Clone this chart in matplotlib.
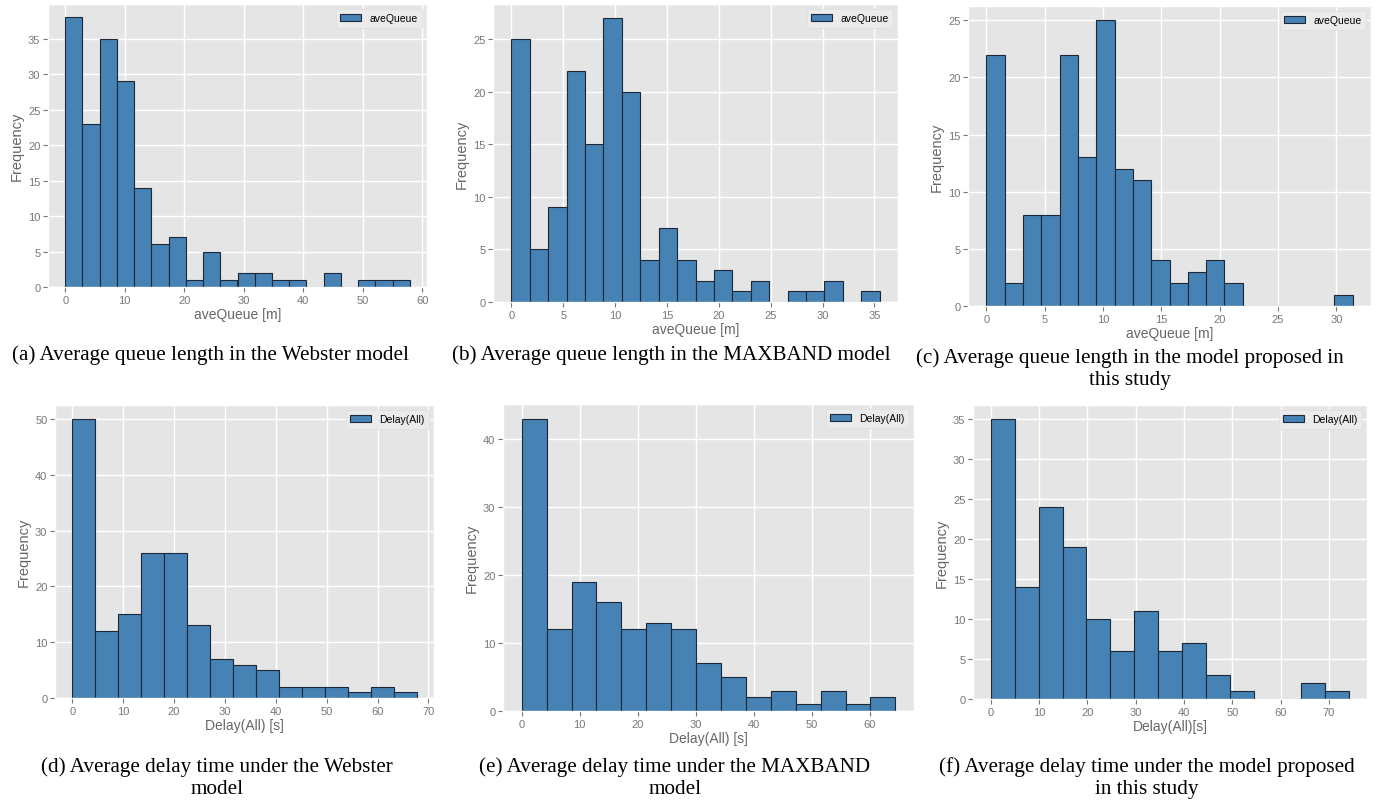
import numpy as np
import matplotlib
matplotlib.use('Agg')
import matplotlib.pyplot as plt

plt.style.use('ggplot')
plt.rcParams['font.family'] = ['Liberation Sans', 'DejaVu Sans']

# histogram counts, with the data range of each panel
queue_webster = [38, 23, 35, 29, 14, 6, 7, 1, 5, 1, 2, 2, 1, 1, 0, 2, 0, 1, 1, 1]
queue_maxband = [25, 5, 9, 22, 15, 27, 20, 4, 7, 4, 2, 3, 1, 2, 0, 1, 1, 2, 0, 1]
queue_proposed = [22, 2, 8, 8, 22, 13, 25, 12, 11, 4, 2, 3, 4, 2, 0, 0, 0, 0, 0, 1]
delay_webster = [50, 12, 15, 26, 26, 13, 7, 6, 5, 2, 2, 2, 1, 2, 1]
delay_maxband = [43, 12, 19, 16, 12, 13, 12, 7, 5, 2, 3, 1, 3, 1, 2]
delay_proposed = [35, 14, 24, 19, 10, 6, 11, 6, 7, 3, 1, 0, 0, 2, 1]

ranges = [(0, 57.9), (0, 35.5), (0, 31.4), (0, 67.7), (0, 64.4), (0, 74.2)]
xlabels = ['aveQueue [m]', 'aveQueue [m]', 'aveQueue [m]',
           'Delay(All) [s]', 'Delay(All) [s]', 'Delay(All)[s]']
legends = ['aveQueue'] * 3 + ['Delay(All)'] * 3
captions = ['(a) Average queue length in the Webster model',
            '(b) Average queue length in the MAXBAND model',
            '(c) Average queue length in the model proposed in\nthis study',
            '(d) Average delay time under the Webster\nmodel',
            '(e) Average delay time under the MAXBAND\nmodel',
            '(f) Average delay time under the model proposed\nin this study']

W, H = 1380, 804
# axes boxes in pixels: left, right, top, bottom
boxes = [(48, 427, 5, 288), (493, 898, 5, 303), (968, 1371, 7, 307),
         (55, 434, 406, 699), (503, 914, 405, 712), (973, 1367, 406, 700)]
cap_pos = [(211, 355), (671, 355), (1130, 369), (217, 778), (675, 778), (1147, 778)]

fig = plt.figure(figsize=(W / 100, H / 100), dpi=100)
fig.patch.set_facecolor('white')

counts_all = [queue_webster, queue_maxband, queue_proposed,
              delay_webster, delay_maxband, delay_proposed]

for i, counts in enumerate(counts_all):
    l, r, t, b = boxes[i]
    ax = fig.add_axes([l / W, 1 - b / H, (r - l) / W, (b - t) / H])
    lo, hi = ranges[i]
    edges = np.linspace(lo, hi, len(counts) + 1)
    ax.hist(edges[:-1], bins=edges, weights=counts, color='#4682B4',
            edgecolor='#1c2838', linewidth=0.8, label=legends[i])
    ax.set_xlabel(xlabels[i], fontsize=10, color='#666666', labelpad=2)
    ax.set_ylabel('Frequency', fontsize=10.5, color='#666666', labelpad=3)
    ax.tick_params(labelsize=8, colors='#777777', pad=2)
    ax.legend(loc='upper right', fontsize=7.5, framealpha=1,
              facecolor='#EBEBEB', edgecolor='#DDDDDD')
    ax.grid(True, color='white', linewidth=1.0)
    cx, cy = cap_pos[i]
    fig.text(cx / W, 1 - cy / H, captions[i], ha='center', va='center',
             fontsize=15.2, family='Liberation Serif', linespacing=1.25)

fig.savefig('out.png', dpi=100)
